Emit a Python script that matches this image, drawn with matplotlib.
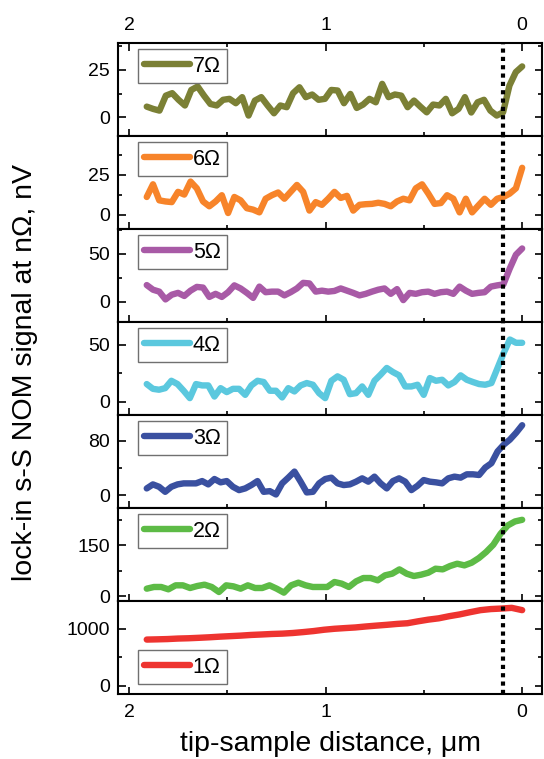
import matplotlib.pyplot as plt
import numpy as np
from matplotlib.ticker import AutoMinorLocator

plt.rcParams['font.family'] = ['Liberation Sans', 'DejaVu Sans']

# ---------- data ----------
labels = ['7Ω', '6Ω', '5Ω', '4Ω', '3Ω', '2Ω', '1Ω']
colors = ['#7b8035', '#f7842a', '#a85aa6', '#5bc8de', '#3a50a0', '#5dbb46', '#ee3430']

sig7 = [5.6, 4.4, 3.5, 11.4, 12.7, 9.2, 6.2, 14.4, 16.2, 11.4, 7.0, 6.2, 9.2, 9.7, 7.4,
        10.6, 0.9, 8.8, 10.6, 6.2, 2.1, 6.2, 5.3, 12.7, 15.8, 10.6, 12.0, 9.2, 9.7, 14.4,
        14.1, 7.4, 12.3, 4.9, 6.7, 9.7, 7.9, 17.6, 10.6, 12.0, 11.4, 5.3, 8.8, 5.6, 2.6,
        6.7, 6.2, 9.7, 2.1, 4.4, 10.6, 2.5, 7.9, 9.2, 3.5, 0.9, 2.6, 16.7, 23.8, 26.8]
sig6 = [11.1, 19.0, 9.0, 8.3, 7.9, 14.3, 12.6, 20.7, 16.5, 8.3, 5.3, 8.3, 12.2, 1.1, 11.1,
        9.0, 4.1, 3.2, 1.5, 10.0, 12.2, 13.9, 10.0, 14.3, 18.6, 14.3, 2.6, 7.9, 6.2, 10.0,
        14.3, 10.5, 11.8, 2.6, 6.2, 6.6, 6.8, 7.5, 6.8, 5.3, 8.3, 10.0, 9.0, 16.5, 19.0,
        13.2, 6.8, 7.3, 12.2, 10.0, 1.5, 10.0, 1.5, 5.8, 10.0, 6.2, 10.0, 11.1, 13.2, 16.5, 29.3]
sig5 = [17.5, 12.7, 10.7, 2.6, 7.5, 9.4, 6.2, 11.7, 15.6, 14.9, 5.2, 8.4, 5.2, 10.1, 17.2,
        14.0, 9.4, 4.2, 15.9, 10.1, 10.7, 10.7, 6.8, 10.1, 14.0, 19.8, 19.2, 10.7, 11.7, 10.7,
        11.4, 14.0, 11.7, 9.4, 6.8, 8.4, 10.7, 12.7, 14.0, 8.4, 13.3, 1.9, 9.4, 8.4, 10.1,
        10.7, 8.4, 10.1, 10.7, 8.4, 15.9, 11.7, 8.4, 9.4, 10.1, 15.9, 17.2, 18.2, 34.4, 49.0, 55.5]
sig4 = [15.4, 11.2, 10.4, 11.8, 18.3, 15.4, 9.5, 3.0, 15.4, 14.2, 14.2, 4.4, 11.8, 8.3, 11.2,
        11.2, 5.9, 14.2, 18.3, 17.2, 9.5, 9.5, 3.6, 11.8, 8.9, 14.2, 16.3, 14.8, 7.4, 3.0,
        18.3, 22.2, 19.2, 6.5, 7.4, 13.3, 5.9, 18.3, 23.7, 29.6, 26.0, 23.1, 13.3, 13.3, 14.8,
        5.9, 20.7, 18.3, 19.2, 14.2, 17.2, 23.1, 19.2, 17.2, 15.4, 14.8, 16.3, 29.6, 42.9,
        54.7, 51.8, 51.8]
sig3 = [9.9, 15.8, 12.3, 4.9, 12.3, 15.8, 17.3, 17.3, 17.3, 20.7, 15.8, 23.7, 18.8, 20.7, 12.3,
        7.4, 9.9, 14.8, 20.7, 4.9, 5.9, 1.0, 17.3, 25.7, 34.6, 19.8, 4.0, 4.9, 17.3, 23.7,
        25.7, 17.3, 14.8, 15.8, 19.8, 24.7, 19.8, 27.2, 17.3, 9.9, 20.7, 24.7, 19.8, 7.4, 13.8,
        22.2, 19.8, 18.8, 17.3, 24.7, 27.2, 25.7, 30.6, 30.6, 29.6, 40.5, 46.9, 64.2, 74.1,
        81.5, 91.4, 102.7]
sig2 = [22.5, 27.5, 27.5, 20.6, 32.4, 32.4, 24.5, 30.4, 34.3, 27.5, 12.7, 32.4, 29.4, 22.5, 32.4,
        24.5, 24.5, 32.4, 22.5, 10.8, 32.4, 40.2, 32.4, 27.5, 27.5, 27.5, 42.2, 37.3, 27.5, 44.1,
        53.9, 53.9, 47.1, 61.8, 66.7, 79.4, 66.7, 59.8, 63.7, 69.6, 81.4, 79.4, 89.2, 96.1, 91.2,
        99.0, 112.7, 130.4, 152.0, 184.3, 208.8, 220.6, 225.5]
sig1 = [811, 815, 820, 829, 834, 842, 851, 862, 871, 880, 892, 900, 909, 915, 926,
        942, 960, 983, 1000, 1012, 1023, 1040, 1055, 1069, 1085, 1097, 1130, 1160, 1183,
        1220, 1251, 1290, 1326, 1345, 1354, 1366, 1326]
signals = [sig7, sig6, sig5, sig4, sig3, sig2, sig1]

ylims = [(-10, 39), (-9, 49), (-21, 75.5), (-12, 70), (-19, 117.5), (-14, 260), (-142, 1485)]
yticks = [[0, 25], [0, 25], [0, 50], [0, 50], [0, 80], [0, 150], [0, 1000]]
x_start, x_end = 1.91, 0.0
x_contact = 0.1

# ---------- figure ----------
fig, axes = plt.subplots(7, 1, sharex=True, figsize=(5.44, 7.59), dpi=100)
fig.subplots_adjust(left=0.217, right=0.996, top=0.943, bottom=0.0856, hspace=0)

for i, ax in enumerate(axes):
    y = np.array(signals[i])
    x = np.linspace(x_start, x_end, len(y))
    ax.plot(x, y, color=colors[i], lw=4.6, solid_capstyle='round',
            solid_joinstyle='round', label=labels[i])
    ax.axvline(x_contact, color='black', lw=3.0, ls=(0, (1, 1)), zorder=5)

    ax.set_ylim(*ylims[i])
    ax.set_yticks(yticks[i])
    ax.yaxis.set_minor_locator(AutoMinorLocator(2))

    last = i == len(axes) - 1
    legkw = dict(handlelength=2.15, handletextpad=0.12, borderpad=0.3,
                 fontsize=15.5, framealpha=1, fancybox=False, borderaxespad=0)
    if last:
        leg = ax.legend(loc='lower left', bbox_to_anchor=(0.046, 0.104), **legkw)
    else:
        leg = ax.legend(loc='upper left', bbox_to_anchor=(0.046, 0.935), **legkw)
    leg.get_frame().set_edgecolor('#707070')
    leg.get_frame().set_linewidth(1.0)
    leg.set_zorder(6)

    ax.tick_params(which='both', direction='in', right=True, top=(i == 0),
                   labeltop=(i == 0), labelbottom=last, width=1.2, labelsize=14)
    ax.tick_params(which='major', length=5.4)
    ax.tick_params(which='minor', length=3)
    ax.tick_params(axis='x', pad=7)
    ax.tick_params(axis='y', pad=6)
    for sp in ax.spines.values():
        sp.set_linewidth(1.5)

axes[0].set_xlim(2.056, -0.10)
axes[0].set_xticks([2, 1, 0])
axes[0].set_xticks([1.5, 0.5], minor=True)
axes[0].set_xticklabels(['2', '1', '0'])

fig.text(0.046, 0.509, 'lock-in s-S NOM signal at nΩ, nV', rotation=90,
         ha='center', va='center', fontsize=20.5)
fig.text(0.607, 0.01, 'tip-sample distance, μm', ha='center', va='baseline', fontsize=20.5)

fig.savefig('out.png', dpi=100)
